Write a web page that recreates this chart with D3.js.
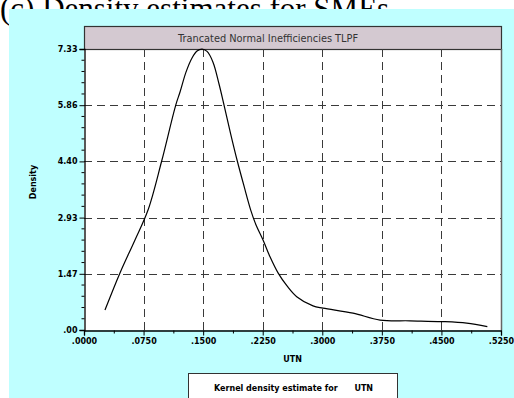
<!DOCTYPE html>
<html>
<head>
<meta charset="utf-8">
<script src="https://cdn.jsdelivr.net/npm/d3@7"></script>
<style>
  body { margin: 0; background: #fff; }
  svg { display: block; }
  text { font-family: "DejaVu Sans", Verdana, sans-serif; }
</style>
</head>
<body>
<svg id="chart" width="514" height="398"></svg>
<script>
// kernel density of UTN
var utn = [0.0264, 0.0453, 0.0642, 0.0806, 0.0978, 0.1155, 0.1209, 0.1284, 0.1360, 0.1423,
           0.1486, 0.1549, 0.1624, 0.1700, 0.1763, 0.1844, 0.1930, 0.2014, 0.2099, 0.2166,
           0.2254, 0.2342, 0.2443, 0.2556, 0.2678, 0.2883, 0.3009, 0.3387, 0.3727, 0.4104,
           0.4503, 0.4818, 0.5078];
var density = [0.52, 1.49, 2.35, 3.13, 4.41, 5.87, 6.21, 6.73, 7.10, 7.28,
               7.33, 7.27, 6.99, 6.42, 5.87, 5.14, 4.41, 3.76, 3.13, 2.74,
               2.35, 1.91, 1.49, 1.15, 0.87, 0.63, 0.57, 0.44, 0.26, 0.24,
               0.22, 0.18, 0.09];

var xTicks = [0, 0.075, 0.15, 0.225, 0.3, 0.375, 0.45, 0.525];
var xTickLabels = [".0000", ".0750", ".1500", ".2250", ".3000", ".3750", ".4500", ".5250"];
var yTicks = [0, 1.4667, 2.9333, 4.4, 5.8667, 7.3333];
var yTickLabels = [".00", "1.47", "2.93", "4.40", "5.86", "7.33"];

var panelTitle = "Trancated Normal Inefficiencies TLPF";
var figTitle = "(c) Density estimates for SMEs";
var xLabel = "UTN";
var yLabel = "Density";
var legendText = "Kernel density estimate for      UTN";

var svg = d3.select("#chart");
var pLeft = 84, pRight = 501, pTop = 49, pBottom = 330;

// figure caption, mostly hidden behind the cyan panel
svg.append("text")
  .attr("x", 0).attr("y", 19)
  .style("font-family", "'Liberation Serif', 'Times New Roman', serif")
  .style("font-size", "31px")
  .attr("fill", "#000")
  .text(figTitle);

svg.append("rect")
  .attr("x", 9).attr("y", 9)
  .attr("width", 520).attr("height", 400)
  .attr("fill", "#bfffff");

var x = d3.scaleLinear().domain([0, 0.525]).range([pLeft, pRight]);
var y = d3.scaleLinear().domain([0, 7.3333]).range([pBottom, pTop]);

// plot area
svg.append("rect")
  .attr("x", pLeft).attr("y", pTop)
  .attr("width", pRight - pLeft).attr("height", pBottom - pTop)
  .attr("fill", "#fff");

// title bar
svg.append("rect")
  .attr("x", pLeft + 0.5).attr("y", 26.5)
  .attr("width", pRight - pLeft).attr("height", pTop - 26)
  .attr("fill", "#d4c9d1")
  .attr("stroke", "#333")
  .attr("stroke-width", 1.2);

svg.append("text")
  .attr("x", 268).attr("y", 41.5)
  .attr("text-anchor", "middle")
  .style("font-size", "9.8px")
  .attr("fill", "#333")
  .text(panelTitle);

// grid
var grid = svg.append("g")
  .attr("stroke", "#3a3a3a")
  .attr("stroke-width", 1)
  .attr("stroke-dasharray", "8,5");

grid.selectAll("line.v")
  .data(xTicks.slice(1, -1))
  .join("line")
  .attr("class", "v")
  .attr("x1", d => Math.round(x(d)) + 0.5).attr("x2", d => Math.round(x(d)) + 0.5)
  .attr("y1", pTop).attr("y2", pBottom);

grid.selectAll("line.h")
  .data(yTicks.slice(1, -1))
  .join("line")
  .attr("class", "h")
  .attr("y1", d => Math.round(y(d)) + 0.5).attr("y2", d => Math.round(y(d)) + 0.5)
  .attr("x1", pLeft).attr("x2", pRight);

// right border
svg.append("line")
  .attr("x1", pRight + 0.5).attr("x2", pRight + 0.5)
  .attr("y1", pTop).attr("y2", pBottom)
  .attr("stroke", "#666").attr("stroke-width", 1.5);

// density curve
var line = d3.line()
  .x((d, i) => x(utn[i]))
  .y(d => y(d))
  .curve(d3.curveCatmullRom.alpha(0.5));

svg.append("path")
  .datum(density)
  .attr("d", line)
  .attr("fill", "none")
  .attr("stroke", "#000")
  .attr("stroke-width", 1.2);

// minor ticks
var xMinor = d3.range(xTicks.length - 1).map(i => (xTicks[i] + xTicks[i + 1]) / 2);
var yMinor = [];
for (var i = 0; i < yTicks.length - 1; i++) {
  for (var k = 1; k < 5; k++) yMinor.push(yTicks[i] + (yTicks[i + 1] - yTicks[i]) * k / 5);
}

var xAxis = d3.axisBottom(x)
  .tickValues(xTicks)
  .tickFormat((d, i) => xTickLabels[i])
  .tickSizeOuter(0)
  .tickSize(5)
  .tickPadding(3);

var yAxis = d3.axisLeft(y)
  .tickValues(yTicks)
  .tickFormat((d, i) => yTickLabels[i])
  .tickSizeOuter(0)
  .tickSize(5)
  .tickPadding(2);

var gx = svg.append("g")
  .attr("transform", "translate(0," + (pBottom + 0.5) + ")")
  .call(xAxis);
gx.append("g").selectAll("line")
  .data(xMinor)
  .join("line")
  .attr("x1", d => x(d) + 0.5).attr("x2", d => x(d) + 0.5)
  .attr("y1", 0).attr("y2", 3)
  .attr("stroke", "#000");

var gy = svg.append("g")
  .attr("transform", "translate(" + (pLeft + 0.5) + ",0)")
  .call(yAxis);
gy.append("g").selectAll("line")
  .data(yMinor)
  .join("line")
  .attr("y1", d => y(d)).attr("y2", d => y(d))
  .attr("x1", 0).attr("x2", -3)
  .attr("stroke", "#000");

svg.selectAll(".domain").attr("stroke", "#000").attr("stroke-width", 1.3);
svg.selectAll(".tick line").attr("stroke", "#000");
svg.selectAll(".tick text")
  .style("font-family", "'DejaVu Sans', Verdana, sans-serif")
  .style("font-size", "8px")
  .style("font-weight", "bold")
  .attr("fill", "#000");

// axis titles
svg.append("text")
  .attr("x", (pLeft + pRight) / 2).attr("y", 362)
  .attr("text-anchor", "middle")
  .style("font-size", "8px").style("font-weight", "bold")
  .text(xLabel);

svg.append("text")
  .attr("transform", "translate(36,182) rotate(-90)")
  .attr("text-anchor", "middle")
  .style("font-size", "8px").style("font-weight", "bold")
  .text(yLabel);

// legend
svg.append("rect")
  .attr("x", 188.5).attr("y", 373.5)
  .attr("width", 209).attr("height", 35)
  .attr("fill", "#fff")
  .attr("stroke", "#333");

svg.append("text")
  .attr("x", 214).attr("y", 391)
  .attr("xml:space", "preserve")
  .style("white-space", "pre")
  .style("font-size", "8px").style("font-weight", "bold")
  .text(legendText);
</script>
</body>
</html>
